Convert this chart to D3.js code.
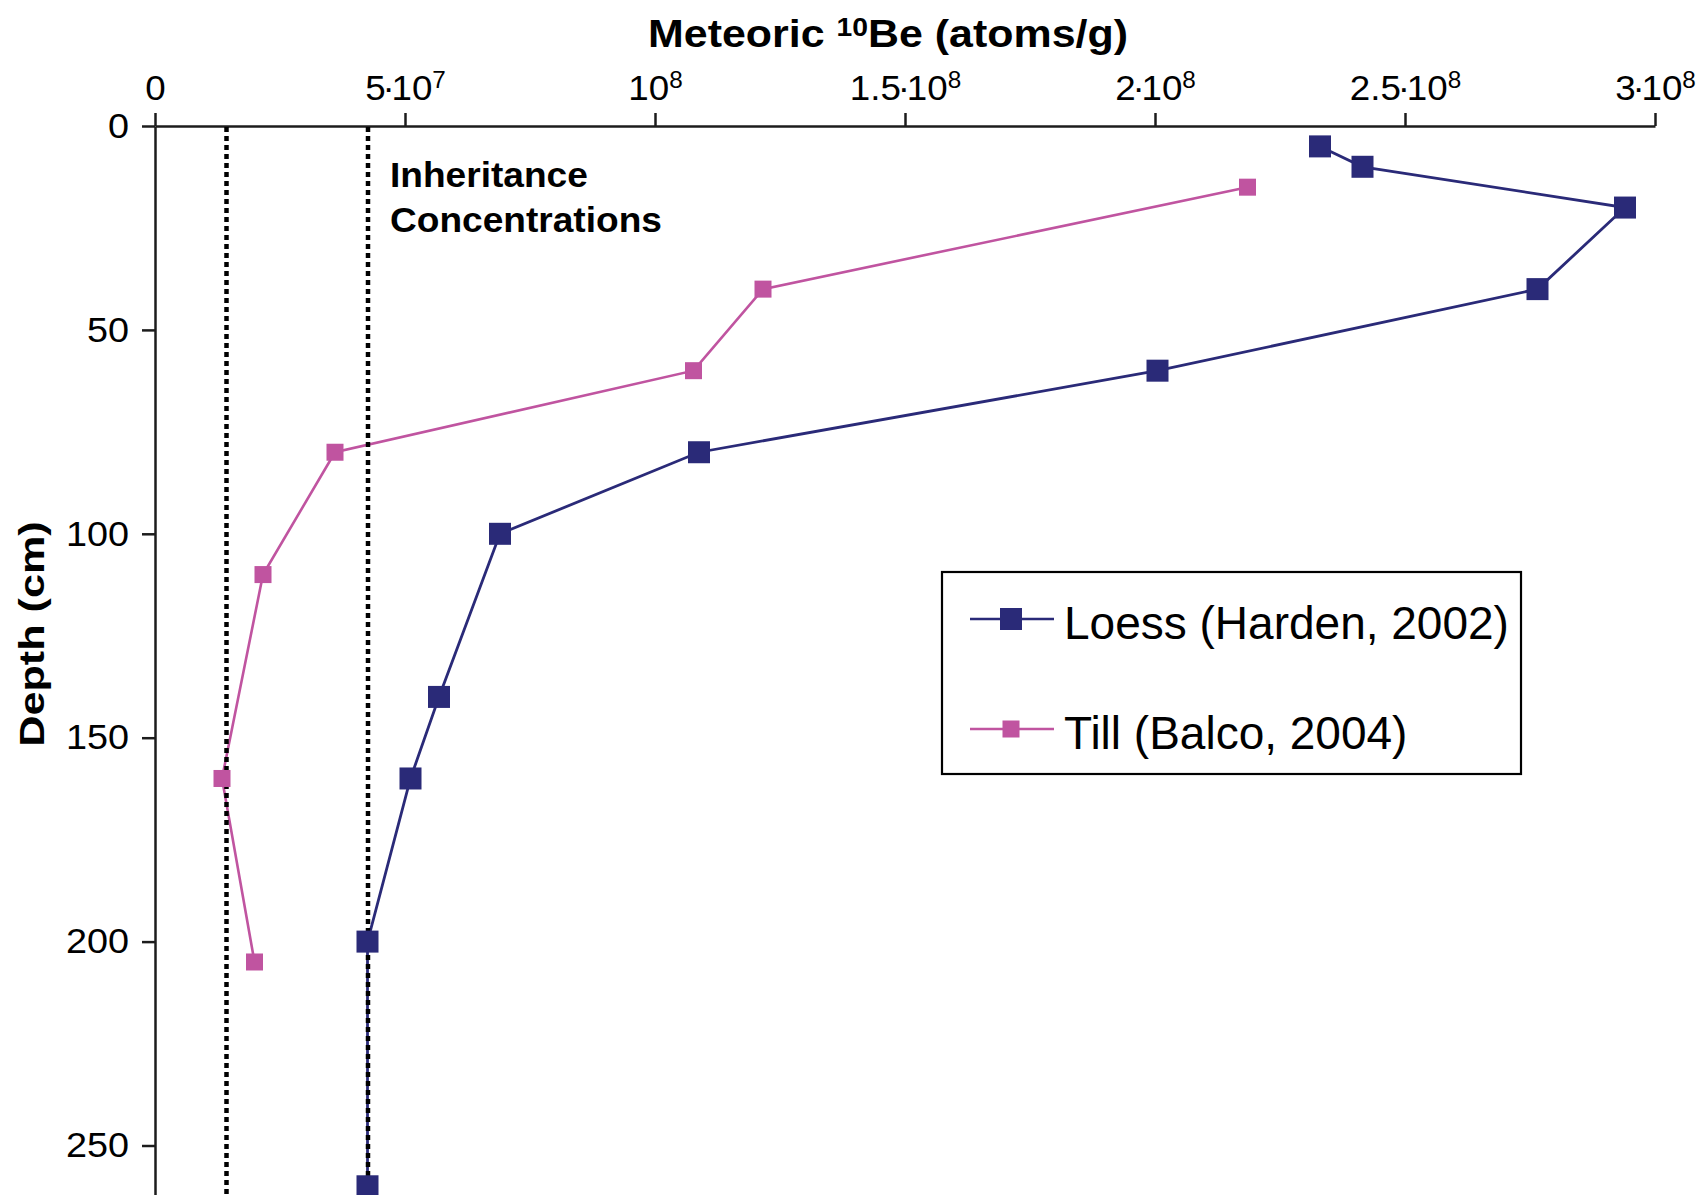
<!DOCTYPE html>
<html>
<head>
<meta charset="utf-8">
<script src="https://cdn.jsdelivr.net/npm/d3@7"></script>
<style>
  html, body { margin: 0; padding: 0; background: #ffffff; }
  svg { display: block; }
</style>
</head>
<body>
<svg id="chart" width="1698" height="1195"></svg>
<script>
// ---- data ----
const depthTicks = [0, 50, 100, 150, 200, 250];
const concTicks = [0, 5e7, 1e8, 1.5e8, 2e8, 2.5e8, 3e8];
// tick label = [mantissa, power of ten]
const concTickLabels = [["0", ""], ["5", "7"], ["", "8"], ["1.5", "8"], ["2", "8"], ["2.5", "8"], ["3", "8"]];

const loessDepth = [5, 10, 20, 40, 60, 80, 100, 140, 160, 200, 260];
const loessConc = [2.33e8, 2.415e8, 2.94e8, 2.765e8, 2.005e8, 1.088e8, 6.9e7, 5.68e7, 5.11e7, 4.25e7, 4.25e7];

const tillDepth = [15, 40, 60, 80, 110, 160, 205];
const tillConc = [2.185e8, 1.216e8, 1.077e8, 3.6e7, 2.16e7, 1.34e7, 1.99e7];

// inherited 10Be concentrations (dotted reference lines)
const inheritanceConc = [1.43e7, 4.26e7];

const seriesNames = ["Loess (Harden, 2002)", "Till (Balco, 2004)"];
const seriesColors = ["#2a2a78", "#c054a0"];

// ---- layout ----
const W = 1698, H = 1195;
const svg = d3.select("#chart");
svg.append("rect").attr("width", W).attr("height", H).attr("fill", "#fff");

const x = d3.scaleLinear().domain([0, 3e8]).range([155, 1655]);
const y = d3.scaleLinear().domain([0, 250]).range([126, 1145.5]);
const yFull = y.copy().domain([0, y.invert(H + 5)]).range([126, H + 5]);

const FONT = "'Liberation Sans', Arial, Helvetica, sans-serif";
const AXIS_COLOR = "#1c1c1c";

// stretch a text element horizontally around its anchor point
function stretchX(sel, sx) {
  sel.attr("transform", function () {
    const ax = +this.getAttribute("x") || 0;
    const ay = +this.getAttribute("y") || 0;
    return `translate(${ax},${ay}) scale(${sx},1) translate(${-ax},${-ay})`;
  });
}

// ---- axes ----
const gx = svg.append("g").attr("transform", `translate(0,${y(0)})`)
  .call(d3.axisTop(x).tickValues(concTicks).tickSize(13).tickSizeOuter(0).tickPadding(13).tickFormat(() => ""));
const gy = svg.append("g").attr("transform", `translate(${x(0)},0)`)
  .call(d3.axisLeft(yFull).tickValues(depthTicks).tickSize(13).tickSizeOuter(0).tickPadding(13));

[gx, gy].forEach(g => {
  g.attr("font-family", FONT);
  g.select(".domain").attr("stroke", AXIS_COLOR).attr("stroke-width", 2.5);
  g.selectAll(".tick line").attr("stroke", AXIS_COLOR).attr("stroke-width", 2.5);
  g.selectAll(".tick text").attr("fill", "#000");
});

// scientific-notation labels: mantissa · 10^power
gx.selectAll(".tick text")
  .attr("font-size", 35)
  .each(function (d, i) {
    const t = d3.select(this).text(null);
    const [mant, pow] = concTickLabels[i];
    if (!pow) { t.append("tspan").text(mant); return; }
    if (mant) {
      t.append("tspan").text(mant);
      t.append("tspan").attr("dx", -3).text("·");
      t.append("tspan").attr("dx", -3).text("10");
    } else {
      t.append("tspan").text("10");
    }
    t.append("tspan").attr("font-size", "0.66em").attr("dy", -12).text(pow);
  });
stretchX(gx.selectAll(".tick text"), 1.05);

gy.selectAll(".tick text").attr("font-size", 35);
stretchX(gy.selectAll(".tick text"), 1.08);

// axis titles
const title = svg.append("text")
  .attr("x", 888).attr("y", 47)
  .attr("text-anchor", "middle")
  .attr("font-family", FONT).attr("font-weight", "bold").attr("font-size", 38);
title.append("tspan").text("Meteoric ");
title.append("tspan").attr("font-size", "0.66em").attr("dy", -11).text("10");
title.append("tspan").attr("dy", 11).text("Be (atoms/g)");
stretchX(title, 1.13);

svg.append("text")
  .attr("transform", "translate(44,634) rotate(-90) scale(1.2,1)")
  .attr("text-anchor", "middle")
  .attr("font-family", FONT).attr("font-weight", "bold").attr("font-size", 36)
  .text("Depth (cm)");

// ---- series ----
const loess = loessDepth.map((d, i) => ({ depth: d, conc: loessConc[i] }));
const till = tillDepth.map((d, i) => ({ depth: d, conc: tillConc[i] }));

const line = d3.line().x(d => x(d.conc)).y(d => y(d.depth));

svg.append("path").datum(till).attr("d", line)
  .attr("fill", "none").attr("stroke", seriesColors[1]).attr("stroke-width", 2.6);
svg.append("path").datum(loess).attr("d", line)
  .attr("fill", "none").attr("stroke", seriesColors[0]).attr("stroke-width", 2.8);

// inheritance reference lines
svg.append("g").selectAll("line").data(inheritanceConc).join("line")
  .attr("x1", d => x(d)).attr("x2", d => x(d))
  .attr("y1", y(0) + 1).attr("y2", H + 5)
  .attr("stroke", "#000").attr("stroke-width", 4.5).attr("stroke-dasharray", "5,4");

const inh = svg.append("text")
  .attr("x", 390).attr("y", 187)
  .attr("font-family", FONT).attr("font-weight", "bold").attr("font-size", 35)
  .attr("fill", "#000");
inh.append("tspan").attr("x", 390).text("Inheritance");
inh.append("tspan").attr("x", 390).attr("dy", 45).text("Concentrations");
stretchX(inh, 1.06);

// markers
const tillSize = 17, loessSize = 22;
svg.append("g").selectAll("rect").data(till).join("rect")
  .attr("x", d => x(d.conc) - tillSize / 2).attr("y", d => y(d.depth) - tillSize / 2)
  .attr("width", tillSize).attr("height", tillSize).attr("fill", seriesColors[1]);
svg.append("g").selectAll("rect").data(loess).join("rect")
  .attr("x", d => x(d.conc) - loessSize / 2).attr("y", d => y(d.depth) - loessSize / 2)
  .attr("width", loessSize).attr("height", loessSize).attr("fill", seriesColors[0]);

// ---- legend ----
const legend = svg.append("g").attr("transform", "translate(942,572)");
legend.append("rect").attr("width", 579).attr("height", 202)
  .attr("fill", "#fff").attr("stroke", "#000").attr("stroke-width", 2.2);
const sizes = [loessSize, tillSize];
seriesNames.forEach((name, i) => {
  const cy = 47 + i * 110;
  const row = legend.append("g").attr("transform", `translate(0,${cy})`);
  row.append("line").attr("x1", 28).attr("x2", 112).attr("y1", 0).attr("y2", 0)
    .attr("stroke", seriesColors[i]).attr("stroke-width", 2.6);
  row.append("rect").attr("x", 69 - sizes[i] / 2).attr("y", -sizes[i] / 2)
    .attr("width", sizes[i]).attr("height", sizes[i]).attr("fill", seriesColors[i]);
  row.append("text").attr("x", 122).attr("y", 20)
    .attr("font-family", FONT).attr("font-size", 46).attr("fill", "#000")
    .text(name);
});
</script>
</body>
</html>
